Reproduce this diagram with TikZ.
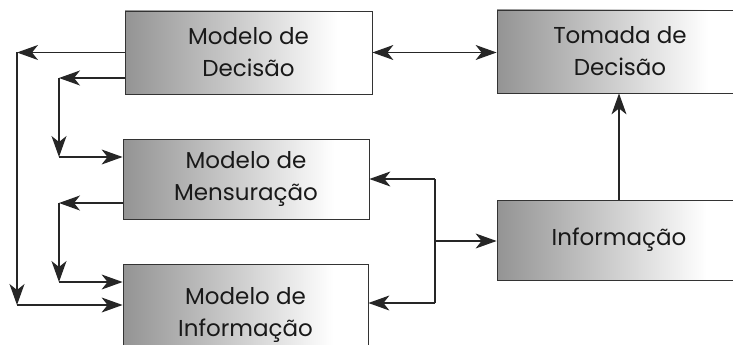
\documentclass[tikz,border=0pt]{standalone}
\usepackage{fontspec}
\setmainfont{Poppins}
\usetikzlibrary{arrows.meta}
\pgfdeclarehorizontalshading{boxfade}{100bp}{color(0bp)=(black!55); color(25bp)=(black!42); color(50bp)=(black!18); color(68bp)=(white); color(100bp)=(white)}
\tikzset{
  mbox/.style={draw=black!80, line width=0.8pt, shading=boxfade, align=center, inner sep=0pt,
    font=\fontsize{23}{32}\selectfont, text=black!90},
  conn/.style={draw=black!85, line width=1.2pt, -{Stealth[length=21pt,width=15pt,inset=6pt]}},
  conn2/.style={draw=black!85, line width=1.2pt, {Stealth[length=21pt,width=15pt,inset=6pt]}-{Stealth[length=21pt,width=15pt,inset=6pt]}},
  plain/.style={draw=black!85, line width=1.2pt}
}
\begin{document}
\begin{tikzpicture}[x=1pt,y=-1pt]
\useasboundingbox (0,0) rectangle (733,345);
\clip (0,0) rectangle (733,345);
\node[mbox, minimum width=247pt, minimum height=83pt] (md) at (248.5,52.5) {Modelo de\\Decisão};
\node[mbox, minimum width=246pt, minimum height=83pt] (td) at (620,51.5) {Tomada de\\Decisão};
\node[mbox, minimum width=246pt, minimum height=80pt] (mm) at (246,179) {Modelo de\\Mensuração};
\node[mbox, minimum width=245pt, minimum height=102pt] (mi) at (245.5,315) {Modelo de\\Informação};
\node[mbox, minimum width=244pt, minimum height=80pt] (inf) at (619,240) {Informação};
\coordinate (c1) at (17,52.5);
\coordinate (c2) at (17,305);
\coordinate (c3) at (59,78);
\coordinate (c4) at (59,157);
\coordinate (c5) at (59,203);
\coordinate (c6) at (59,282);
\coordinate (j) at (435,241);
\coordinate (j1) at (435,179);
\coordinate (j2) at (435,303);
\draw[conn] (md.west) -- (c1);
\draw[conn] (c1) -- (c2);
\draw[conn] (c2) -- (mi.west |- c2);
\draw[conn] (md.west |- c3) -- (c3);
\draw[conn] (c3) -- (c4);
\draw[conn] (c4) -- (mm.west |- c4);
\draw[conn] (mm.west |- c5) -- (c5);
\draw[conn] (c5) -- (c6);
\draw[conn] (c6) -- (mi.west |- c6);
\draw[conn2] (md.east) -- (td.west |- md.east);
\draw[conn] (inf.north) -- (inf.north |- td.south);
\draw[plain] (j1) -- (j2);
\draw[conn] (j) -- (inf.west |- j);
\draw[conn] (j1) -- (mm.east |- j1);
\draw[conn] (j2) -- (mi.east |- j2);
\end{tikzpicture}
\end{document}
